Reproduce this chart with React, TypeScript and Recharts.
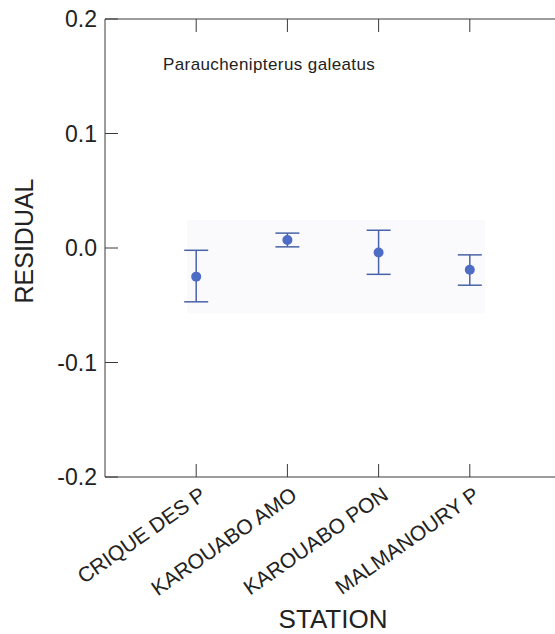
import React from 'react';
import {
  ComposedChart,
  Scatter,
  ErrorBar,
  XAxis,
  YAxis,
  ReferenceArea,
  Label,
} from 'recharts';

// values
const stations = ['CRIQUE DES P', 'KAROUABO AMO', 'KAROUABO PON', 'MALMANOURY P'];
const stationPos = [1, 2, 3, 4];
const residuals = [-0.025, 0.007, -0.004, -0.019];
const lowerLimits = [-0.047, 0.001, -0.023, -0.0325];
const upperLimits = [-0.002, 0.013, 0.0155, -0.006];
const yTicks = [-0.2, -0.1, 0, 0.1, 0.2];

const FONT = "Arial, 'Liberation Sans', sans-serif";
const INK = '#222';
const FRAME = '#3a3a3a';
const TICK_LEN = 13;

const data = stations.map((name, i) => ({
  name,
  x: stationPos[i],
  y: residuals[i],
  err: [residuals[i] - lowerLimits[i], upperLimits[i] - residuals[i]],
}));

// bottom axis: inward tick + rotated station name
function StationTick(props: any) {
  const { x, y, payload } = props;
  const label = stations[stationPos.indexOf(payload.value)] ?? '';
  const ax = x + 11;
  const ay = y + 21;
  return (
    <g>
      <line x1={x} x2={x} y1={y} y2={y - TICK_LEN} stroke={FRAME} />
      <text
        x={ax}
        y={ay}
        transform={`rotate(-35 ${ax} ${ay})`}
        textAnchor="end"
        fontSize={21}
        fontFamily={FONT}
        fill={INK}
      >
        {label}
      </text>
    </g>
  );
}

// left axis: inward tick + value (tickMargin 8, tickSize 0)
function ResidualTick(props: any) {
  const { x, y, payload } = props;
  const axisX = x + 8;
  return (
    <g>
      <line x1={axisX} x2={axisX + TICK_LEN} y1={y} y2={y} stroke={FRAME} />
      <text
        x={x}
        y={y}
        dy="0.36em"
        textAnchor="end"
        fontSize={23}
        fontFamily={FONT}
        fill={INK}
      >
        {Number(payload.value).toFixed(1)}
      </text>
    </g>
  );
}

const TopTick = (props: any) => (
  <line x1={props.x} x2={props.x} y1={props.y} y2={props.y + TICK_LEN} stroke={FRAME} />
);

const RightTick = (props: any) => (
  <line x1={props.x} x2={props.x - TICK_LEN} y1={props.y} y2={props.y} stroke={FRAME} />
);

export default function App() {
  return (
    <div
      style={{
        position: 'absolute',
        left: 0,
        top: 0,
        width: 555,
        height: 634,
        overflow: 'hidden',
        background: '#fff',
      }}
    >
      <ComposedChart
        width={580}
        height={634}
        data={data}
        margin={{ top: 18, right: 18, bottom: 0, left: 0 }}
      >
        <XAxis
          dataKey="x"
          type="number"
          domain={[0, 5]}
          ticks={stationPos}
          interval={0}
          height={157}
          stroke={FRAME}
          tickLine={false}
          tickSize={0}
          tickMargin={0}
          tick={<StationTick />}
        >
          <Label
            value="STATION"
            position="insideBottom"
            offset={6}
            fontSize={26}
            fontFamily={FONT}
            fill={INK}
          />
        </XAxis>
        <XAxis
          xAxisId="top"
          orientation="top"
          dataKey="x"
          type="number"
          domain={[0, 5]}
          ticks={stationPos}
          interval={0}
          height={1}
          stroke={FRAME}
          tickLine={false}
          tickSize={0}
          tickMargin={0}
          tick={<TopTick />}
        >
          <Label
            content={({ viewBox }: any) => (
              <text
                x={viewBox.x + 58}
                y={viewBox.y + 52}
                fontSize={17}
                letterSpacing={0.4}
                fontFamily={FONT}
                fill={INK}
              >
                Parauchenipterus galeatus
              </text>
            )}
          />
        </XAxis>
        <YAxis
          type="number"
          domain={[-0.2, 0.2]}
          ticks={yTicks}
          interval={0}
          width={105}
          stroke={FRAME}
          tickLine={false}
          tickSize={0}
          tickMargin={8}
          tick={<ResidualTick />}
        >
          <Label
            content={({ viewBox }: any) => {
              const cx = viewBox.x + 24;
              const cy = viewBox.y + viewBox.height / 2 - 7;
              return (
                <text
                  x={cx}
                  y={cy}
                  transform={`rotate(-90 ${cx} ${cy})`}
                  textAnchor="middle"
                  dominantBaseline="central"
                  fontSize={25}
                  fontFamily={FONT}
                  fill={INK}
                >
                  RESIDUAL
                </text>
              );
            }}
          />
        </YAxis>
        <YAxis
          yAxisId="right"
          orientation="right"
          type="number"
          domain={[-0.2, 0.2]}
          ticks={yTicks}
          interval={0}
          width={1}
          stroke={FRAME}
          tickLine={false}
          tickSize={0}
          tickMargin={0}
          tick={<RightTick />}
        />
        <ReferenceArea
          x1={0.9}
          x2={4.17}
          y1={-0.057}
          y2={0.0245}
          fill="#fafafc"
          fillOpacity={1}
          stroke="none"
        />
        <Scatter
          dataKey="y"
          isAnimationActive={false}
          shape={(p: any) => <circle cx={p.cx} cy={p.cy} r={5} fill="#4c6cc6" />}
        >
          <ErrorBar
            dataKey="err"
            direction="y"
            width={12}
            stroke="#4a62a8"
            strokeWidth={1.5}
            isAnimationActive={false}
          />
        </Scatter>
      </ComposedChart>
    </div>
  );
}
